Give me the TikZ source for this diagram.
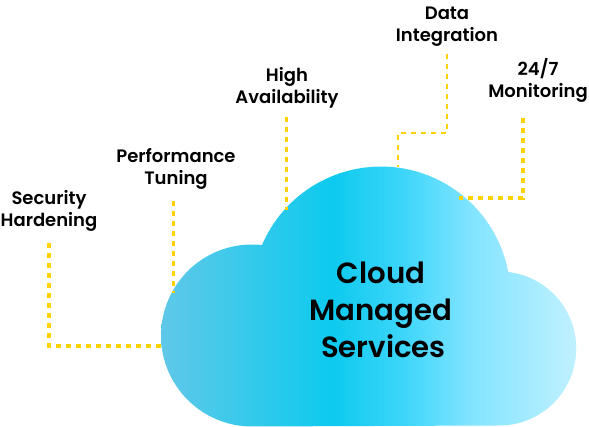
\documentclass[tikz,border=0pt]{standalone}
\usepackage{fontspec}
\setmainfont{Poppins}[BoldFont={Poppins SemiBold}]
\definecolor{wireyellow}{HTML}{FFD200}
\definecolor{cloudA}{RGB}{96,200,232}
\definecolor{cloudB}{RGB}{13,202,238}
\definecolor{cloudC}{RGB}{62,214,250}
\definecolor{cloudD}{RGB}{130,228,255}
\definecolor{cloudE}{RGB}{195,241,255}
\pgfdeclarehorizontalshading{cloudshade}{100bp}{
color(0bp)=(cloudA);color(25bp)=(cloudA);color(45.4bp)=(cloudB);color(54bp)=(cloudC);
color(62bp)=(cloudD);color(75bp)=(cloudE);color(100bp)=(cloudE)}
\begin{document}
\begin{tikzpicture}[x=1pt,y=1pt,wire/.style={wireyellow,line width=3.1pt,dash pattern=on 5pt off 5pt},
label/.style={align=center,inner sep=0pt,font=\fontsize{18}{22}\selectfont\bfseries},
biglabel/.style={align=center,inner sep=0pt,font=\fontsize{29.2}{37}\selectfont\bfseries}]
\useasboundingbox (0,0) rectangle (589,427);

\path [shading=cloudshade] (252,0.5) arc (270:83.7:91) arc (156.8:10.7:129.5) arc (83.3:-90:77) -- cycle;

\node [biglabel] at (381,117) (cloud) {Cloud\\Managed\\\hspace*{5pt}Services};

\foreach \n/\x/\y/\t in {sec/49/216/{Security\\Hardening}, perf/176/258/{Performance\\Tuning}, high/287/339/{High\\Availability}, data/447/400/{Data\\Integration}, mon/538/347/{24/7\\Monitoring}}{
\node [label] at (\x,\y) (\n) {\t};
}

\coordinate (sec_a) at (49,186);
\coordinate (sec_b) at (161,81);
\coordinate (perf_a) at (173.5,226);
\coordinate (perf_b) at (173.5,134);
\coordinate (high_a) at (286.5,310);
\coordinate (high_b) at (286.5,217);
\coordinate (data_a) at (447,373);
\coordinate (data_b) at (398,294);
\coordinate (data_c) at (398,260);
\coordinate (mon_a) at (523,311);
\coordinate (mon_b) at (459,229);

\draw [wire,dash phase=8pt] (sec_a) |- (sec_b);
\draw [wire] (perf_a) -- (perf_b);
\draw [wire] (high_a) -- (high_b);
\draw [wire,line width=2.6pt] (data_a) |- (data_b) -- (data_c);
\draw [wire,dash phase=8pt] (mon_a) |- (mon_b);

\end{tikzpicture}
\end{document}
